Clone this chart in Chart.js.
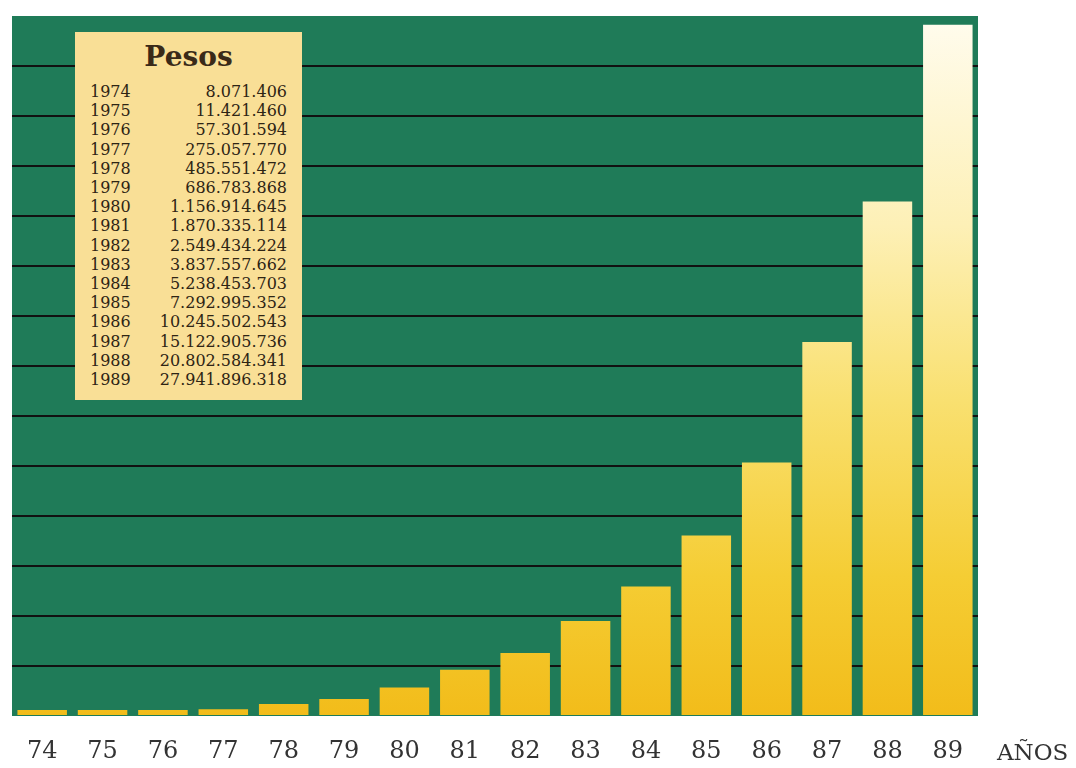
<!DOCTYPE html>
<html>
<head>
<meta charset="utf-8">
<script src="https://cdn.jsdelivr.net/npm/chart.js@4"></script>
<style>
  body { margin: 0; background: #fff; }
  #wrap { position: relative; width: 1076px; height: 768px; }
  #pesosBox {
    position: absolute; left: 75px; top: 32px; width: 227px; height: 368px;
    background: #f9df96; font-family: "DejaVu Serif", serif; color: #2e2414;
  }
  #pesosBox h2 {
    margin: 0; position: absolute; top: 8px; width: 100%; text-align: center;
    font-size: 28px; font-weight: bold; color: #3a2a18;
  }
  #pesosBox .row {
    position: absolute; left: 15px; width: 197px; font-size: 16px; line-height: 19px;
  }
  #pesosBox .row span:last-child { position: absolute; right: 0; }
  #anos {
    position: absolute; left: 997px; top: 739px; font-family: "DejaVu Serif", serif;
    font-size: 23px; color: #333;
  }
</style>
</head>
<body>
<div id="wrap">
  <canvas id="pesosChart" width="1076" height="768"></canvas>
  <div id="pesosBox"><h2>Pesos</h2></div>
  <div id="anos">AÑOS</div>
</div>
<script>
// Data
const years = ['1974', '1975', '1976', '1977', '1978', '1979', '1980', '1981',
               '1982', '1983', '1984', '1985', '1986', '1987', '1988', '1989'];
const yearLabels = ['74', '75', '76', '77', '78', '79', '80', '81',
                    '82', '83', '84', '85', '86', '87', '88', '89'];
const pesos = [8071406, 11421460, 57301594, 275057770, 485551472, 686783868,
               1156914645, 1870335114, 2549434224, 3837557662, 5238453703,
               7292995352, 10245502543, 15122905736, 20802584341, 27941896318];

// Table in the yellow box
const fmt = v => String(v).replace(/\B(?=(\d{3})+(?!\d))/g, '.');
const box = document.getElementById('pesosBox');
years.forEach((y, i) => {
    const row = document.createElement('div');
    row.className = 'row';
    row.style.top = (50 + i * 19.2) + 'px';
    row.innerHTML = '<span>' + y + '</span><span>' + fmt(pesos[i]) + '</span>';
    box.appendChild(row);
});

// Green panel behind the bars
const greenPanel = {
    id: 'greenPanel',
    beforeDraw(chart) {
        const { ctx, chartArea: a } = chart;
        ctx.save();
        ctx.fillStyle = '#1f7b58';
        ctx.fillRect(a.left, a.top, a.right - a.left, a.bottom - a.top);
        ctx.restore();
    }
};

function barGradient(context) {
    const { ctx, chartArea } = context.chart;
    if (!chartArea) return '#f5c828';
    const g = ctx.createLinearGradient(0, chartArea.top, 0, chartArea.bottom);
    g.addColorStop(0, '#fffcee');
    g.addColorStop(0.3, '#fdf0b6');
    g.addColorStop(0.55, '#f9e070');
    g.addColorStop(0.8, '#f5cd34');
    g.addColorStop(1, '#f2bc1a');
    return g;
}

const ctx = document.getElementById('pesosChart').getContext('2d');
const pesosChart = new Chart(ctx, {
    type: 'bar',
    data: {
        labels: yearLabels,
        datasets: [{
            data: pesos,
            backgroundColor: barGradient,
            borderWidth: 0,
            minBarLength: 6,
            categoryPercentage: 1,
            barPercentage: 0.82
        }]
    },
    plugins: [greenPanel],
    options: {
        responsive: false,
        animation: false,
        layout: { padding: { left: 12, right: 98, top: 16, bottom: 4 } },
        plugins: {
            legend: { display: false },
            tooltip: { enabled: false }
        },
        scales: {
            x: {
                grid: { display: false },
                border: { display: false },
                afterFit: scale => { scale.height = 48; },
                ticks: {
                    padding: 13,
                    color: '#333',
                    font: { family: 'DejaVu Serif', size: 24 }
                }
            },
            y: {
                min: 0,
                max: 28300000000,
                border: { display: false },
                grid: {
                    drawTicks: false,
                    lineWidth: 2,
                    color: c => (c.tick && c.tick.value > 0 && c.tick.value < 27e9) ? '#111' : 'rgba(0,0,0,0)'
                },
                ticks: { display: false, stepSize: 2000000000 }
            }
        }
    }
});
</script>
</body>
</html>
